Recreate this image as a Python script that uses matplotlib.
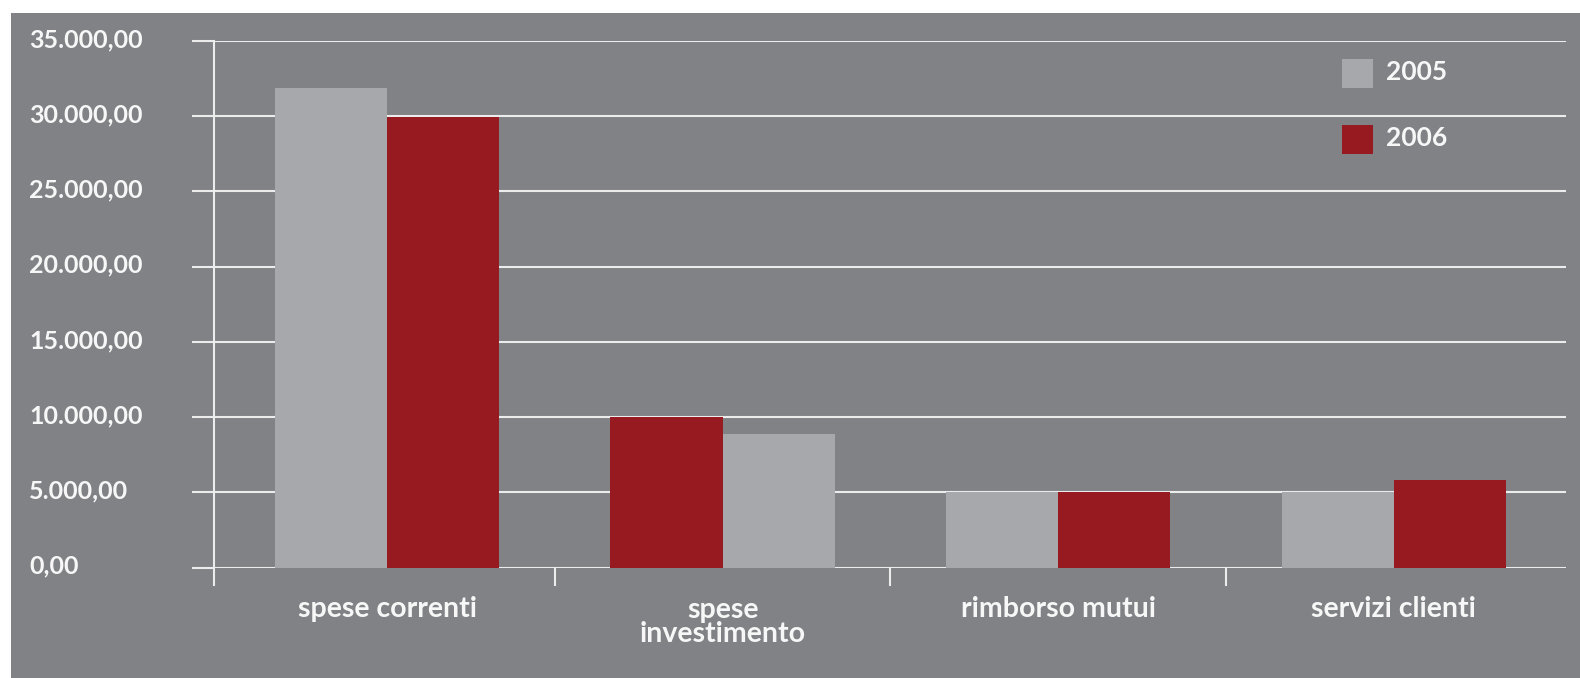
import matplotlib
matplotlib.use("Agg")
import matplotlib.pyplot as plt
from matplotlib.patches import Rectangle
from matplotlib.transforms import blended_transform_factory
import numpy as np

# ---- data ----
categories = ["spese correnti", "spese\ninvestimento", "rimborso mutui", "servizi clienti"]
years = ["2005", "2006"]
vals_2005 = [31880, 8880, 5050, 5050]
vals_2006 = [29950, 10000, 5030, 5830]
# in the reference, the 2006 bar is drawn on the left for "spese investimento"
red_first = [False, True, False, False]
yticks = [0, 5000, 10000, 15000, 20000, 25000, 30000, 35000]
ytick_labels = ["0,00", "5.000,00", "10.000,00", "15.000,00", "20.000,00",
                "25.000,00", "30.000,00", "35.000,00"]

# ---- style ----
W, H = 1580, 678
BG = "#818286"
GRAY = "#a7a8ab"
RED = "#961a1f"
LINE = "#ececec"
TXT = "#f7f7f7"
FONT = ["Lato", "DejaVu Sans"]

fig = plt.figure(figsize=(W / 100, H / 100), dpi=100, facecolor="white")
fig.add_artist(Rectangle((11 / W, 0), 1 - 11 / W, 1 - 13 / H, transform=fig.transFigure,
                         facecolor=BG, edgecolor="none", zorder=-10))

ax_l, ax_r, ax_t, ax_b = 214, 1566, 41, 567.7
ax = fig.add_axes([ax_l / W, 1 - ax_b / H, (ax_r - ax_l) / W, (ax_b - ax_t) / H])
ax.set_facecolor("none")

x = np.arange(len(categories))
bw = 0.334
for i in range(len(categories)):
    if red_first[i]:
        ax.bar(x[i] - bw / 2, vals_2006[i], bw, color=RED, zorder=3)
        ax.bar(x[i] + bw / 2, vals_2005[i], bw, color=GRAY, zorder=3)
    else:
        ax.bar(x[i] - bw / 2, vals_2005[i], bw, color=GRAY, zorder=3)
        ax.bar(x[i] + bw / 2, vals_2006[i], bw, color=RED, zorder=3)

xl = -0.5 - 5.25 / 335.5
xr = 3.5 + 4.6 / 335.5
ax.set_xlim(xl, xr)
ax.set_ylim(0, 35000)

for yv in yticks:
    ax.axhline(yv, color=LINE, lw=1.5, zorder=2)

for s in ["top", "right", "bottom"]:
    ax.spines[s].set_visible(False)
ax.spines["left"].set_color(LINE)
ax.spines["left"].set_linewidth(1.5)
ax.spines["left"].set_zorder(2)

ax.set_yticks(yticks)
ax.set_yticklabels([])
ax.tick_params(axis="y", length=22 / 1.389, width=1.5, color=LINE, direction="out")
for yv, lab in zip(yticks, ytick_labels):
    fig.text(29 / W, 1 - (ax_b - (ax_b - ax_t) * yv / 35000 - 1.5) / H, lab,
             ha="left", va="center", color=TXT, fontsize=18, family=FONT, weight="bold")

ax.set_xticks([xl, 0.5, 1.5, 2.5])
ax.set_xticklabels([])
ax.tick_params(axis="x", length=18.5 / 1.389, width=1.5, color=LINE, direction="out")
trans = blended_transform_factory(ax.transData, ax.transAxes)
for i, c in enumerate(categories):
    ypix = 621.8 if "\n" in c else 608.6
    ya = (ax_b - ypix) / (ax_b - ax_t)
    ax.text(x[i], ya, c, transform=trans, ha="center", va="center", color=TXT,
            fontsize=20.5, family=FONT, weight="bold", linespacing=0.88)

# legend
for (y0, col, lab) in [(59, GRAY, years[0]), (125, RED, years[1])]:
    fig.add_artist(Rectangle((1342 / W, 1 - (y0 + 29) / H), 30.5 / W, 29 / H,
                             transform=fig.transFigure, facecolor=col, edgecolor="none", zorder=5))
    fig.text(1386 / W, 1 - (y0 + 13.5) / H, lab, ha="left", va="center", color=TXT,
             fontsize=19, family=FONT, weight="bold")

fig.savefig("out.png", dpi=100, facecolor="white")
